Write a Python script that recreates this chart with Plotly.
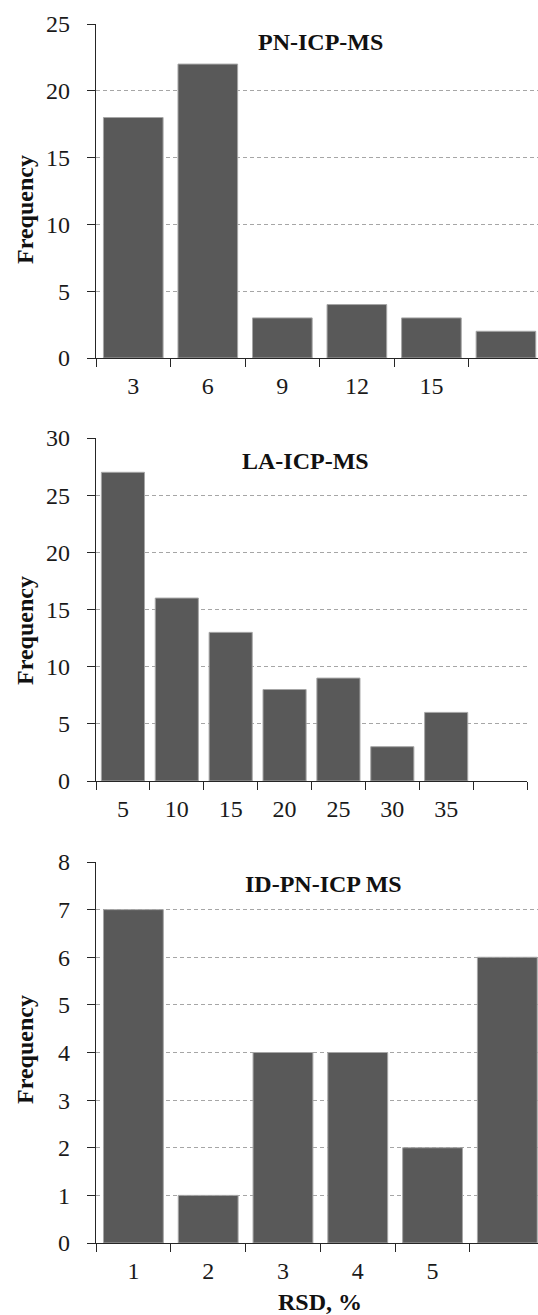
import plotly.graph_objects as go

# ---- data ----
pn_labels = ["3", "6", "9", "12", "15", " "]
pn_values = [18, 22, 3, 4, 3, 2]

la_labels = ["5", "10", "15", "20", "25", "30", "35", " "]
la_values = [27, 16, 13, 8, 9, 3, 6, 0]

id_labels = ["1", "2", "3", "4", "5", " "]
id_values = [7, 1, 4, 4, 2, 6]

titles = ["PN-ICP-MS", "LA-ICP-MS", "ID-PN-ICP MS"]
y_title = "Frequency"
x_title = "RSD, %"

W, H = 538, 1315
FONT = "Liberation Serif, Times New Roman, serif"
BAR = "#595959"
EDGE = "#a6a6a6"
GRID = "#a6a6a6"
AX = "#262626"

fig = go.Figure()

panels = [
    (pn_labels, pn_values, "x", "y"),
    (la_labels, la_values, "x2", "y2"),
    (id_labels, id_values, "x3", "y3"),
]
for labels, vals, xa, ya in panels:
    fig.add_trace(go.Bar(
        x=labels, y=vals, xaxis=xa, yaxis=ya,
        marker=dict(color=BAR, line=dict(color=EDGE, width=[1 if v else 0 for v in vals])),
        showlegend=False, hoverinfo="x+y",
    ))

def ydom(top_px, bot_px):
    return [(H - bot_px) / H, (H - top_px) / H]

x_left = 96 / W

xcommon = dict(
    type="category", tickson="boundaries", ticks="outside", ticklen=8,
    tickwidth=1.3, tickcolor=AX, showline=True, linecolor=AX, linewidth=1.3,
    showgrid=False, zeroline=False, automargin=False,
    tickfont=dict(family=FONT, size=24, color="#1a1a1a"),
    ticklabelstandoff=6,
)
ycommon = dict(
    ticks="outside", ticklen=8, tickwidth=1.3, tickcolor=AX,
    showline=True, linecolor=AX, linewidth=1.3,
    showgrid=True, gridcolor=GRID, gridwidth=1, griddash="4px,3px",
    zeroline=False, automargin=False,
    tickfont=dict(family=FONT, size=24, color="#1a1a1a"),
    ticklabelstandoff=12,
)

fig.update_layout(
    width=W, height=H,
    margin=dict(l=0, r=0, t=0, b=0, autoexpand=False),
    paper_bgcolor="white", plot_bgcolor="white",
    bargap=0.2,
    xaxis=dict(xcommon, domain=[x_left, 1.0], anchor="y", range=[-0.5, 5.43]),
    yaxis=dict(ycommon, domain=ydom(24, 358), anchor="x", range=[0, 25], dtick=5),
    xaxis2=dict(xcommon, domain=[x_left, 527 / W], anchor="y2", range=[-0.5, 7.5]),
    yaxis2=dict(ycommon, domain=ydom(438, 781), anchor="x2", range=[0, 30], dtick=5),
    xaxis3=dict(xcommon, domain=[x_left, 1.0], anchor="y3", range=[-0.5, 5.41]),
    yaxis3=dict(ycommon, domain=ydom(862, 1243), anchor="x3", range=[0, 8], dtick=1),
)

ann = []
title_pos = [(320, 42), (305, 461), (323, 884)]
for t, (px, py) in zip(titles, title_pos):
    ann.append(dict(text="<b>%s</b>" % t, x=px / W, y=(H - py) / H, xref="paper", yref="paper",
                    xanchor="center", yanchor="middle", showarrow=False,
                    font=dict(family=FONT, size=24, color="#111")))
for py in [210, 631, 1050]:
    ann.append(dict(text="<b>%s</b>" % y_title, x=25 / W, y=(H - py) / H, xref="paper", yref="paper",
                    xanchor="center", yanchor="middle", textangle=-90, showarrow=False,
                    font=dict(family=FONT, size=24, color="#111")))
ann.append(dict(text="<b>%s</b>" % x_title, x=320 / W, y=(H - 1302) / H, xref="paper", yref="paper",
                xanchor="center", yanchor="middle", showarrow=False,
                font=dict(family=FONT, size=24, color="#111")))
fig.update_layout(annotations=ann)

fig.write_html("out.html")
